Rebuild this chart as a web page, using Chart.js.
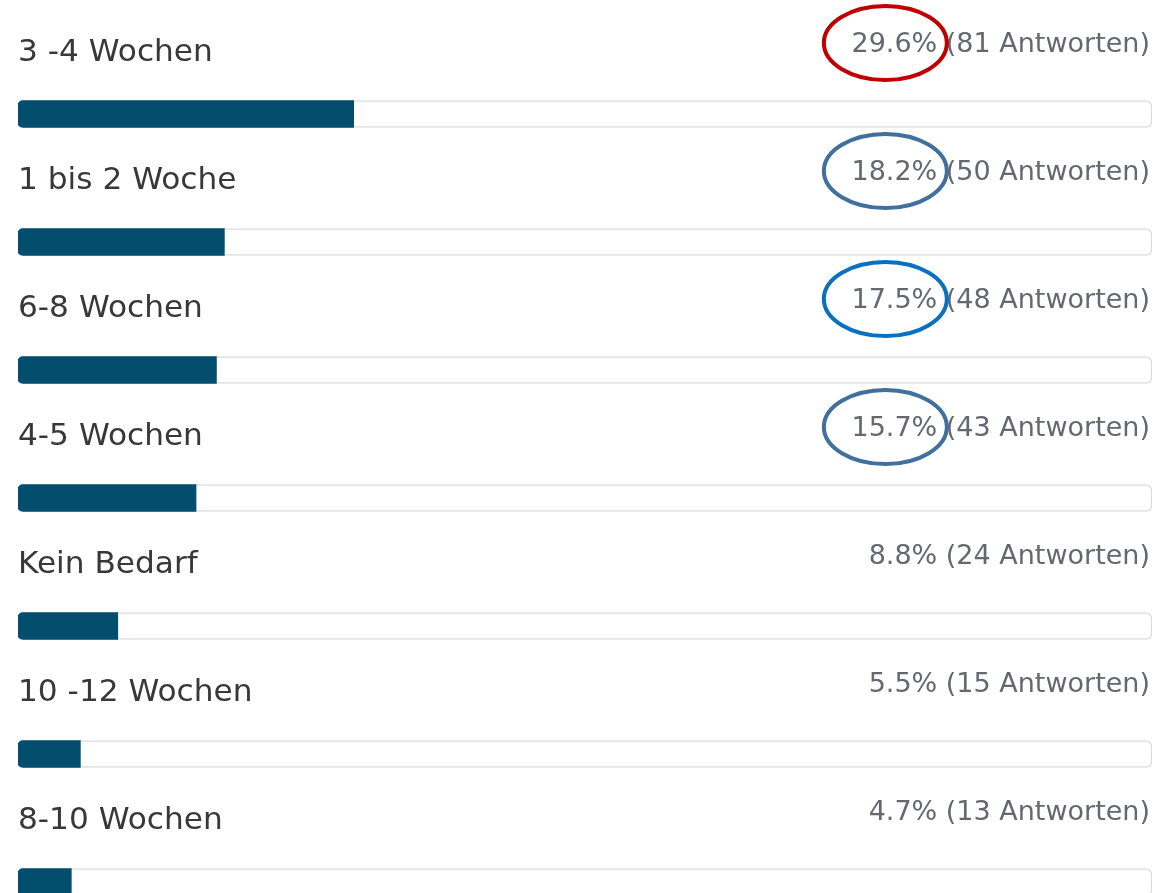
<!DOCTYPE html>
<html>
<head>
<meta charset="utf-8">
<script src="https://cdn.jsdelivr.net/npm/chart.js@4/dist/chart.umd.min.js"></script>
<style>
html,body{margin:0;padding:0;background:#fff;overflow:hidden;width:1159px;height:893px;}
#wrap{width:1159px;height:893px;overflow:hidden;}
canvas{display:block;}
</style>
</head>
<body>
<div id="wrap"><canvas id="c" width="1159" height="960"></canvas></div>
<script>
const categories = ['3 -4 Wochen','1 bis 2 Woche','6-8 Wochen','4-5 Wochen','Kein Bedarf','10 -12 Wochen','8-10 Wochen'];
const percentValues = [29.6, 18.2, 17.5, 15.7, 8.8, 5.5, 4.7];
const answerCounts = [81, 50, 48, 43, 24, 15, 13];
const highlightColors = ['#c00000', '#41709c', '#0a70c0', '#41709c', null, null, null];
const trackValues = categories.map(() => 100);

const labelPlugin = {
  id: 'rowLabels',
  afterDatasetsDraw(chart) {
    const ctx = chart.ctx;
    const y = chart.scales.y;
    const area = chart.chartArea;
    ctx.save();
    categories.forEach((cat, i) => {
      const cy = y.getPixelForValue(i);
      // left label (slightly widened like the reference face)
      ctx.save();
      ctx.font = '30px "DejaVu Sans"';
      ctx.fillStyle = '#383838';
      ctx.textAlign = 'left';
      ctx.textBaseline = 'alphabetic';
      ctx.translate(area.left, cy - 53.5);
      ctx.scale(1.04, 1);
      ctx.fillText(cat, 0, 0);
      ctx.restore();
      // right text
      ctx.font = '27px "DejaVu Sans"';
      ctx.fillStyle = '#646870';
      ctx.textAlign = 'right';
      ctx.textBaseline = 'alphabetic';
      const pct = percentValues[i].toFixed(1) + '%';
      const full = pct + ' (' + answerCounts[i] + ' Antworten)';
      const rx = area.right - 2;
      const by = cy - 62.5;
      ctx.fillText(full, rx, by);
      const hc = highlightColors[i];
      if (hc) {
        const fw = ctx.measureText(full).width;
        const pw = ctx.measureText(pct).width;
        const cx = rx - fw + pw / 2 - 9;
        ctx.beginPath();
        ctx.ellipse(cx, by - 8.5, 61.5, 37, 0, 0, Math.PI * 2);
        ctx.lineWidth = 4;
        ctx.strokeStyle = hc;
        ctx.stroke();
      }
    });
    ctx.restore();
  }
};

new Chart(document.getElementById('c'), {
  type: 'bar',
  data: {
    labels: categories,
    datasets: [
      {
        data: percentValues,
        backgroundColor: '#044e6d',
        borderWidth: 0,
        borderRadius: {topLeft: 5, bottomLeft: 5, topRight: 0, bottomRight: 0},
        borderSkipped: false,
        barThickness: 27,
        grouped: false,
        order: 0
      },
      {
        data: trackValues,
        backgroundColor: '#ffffff',
        borderColor: '#dcdcdc',
        borderWidth: 1.5,
        borderRadius: 6,
        borderSkipped: false,
        barThickness: 27,
        grouped: false,
        order: 1
      }
    ]
  },
  options: {
    indexAxis: 'y',
    responsive: false,
    animation: false,
    devicePixelRatio: 1,
    layout: {padding: {left: 18, right: 7, top: 50, bottom: 14}},
    plugins: {legend: {display: false}, tooltip: {enabled: false}},
    scales: {
      x: {display: false, min: 0, max: 100},
      y: {display: false}
    }
  },
  plugins: [labelPlugin]
});
</script>
</body>
</html>
